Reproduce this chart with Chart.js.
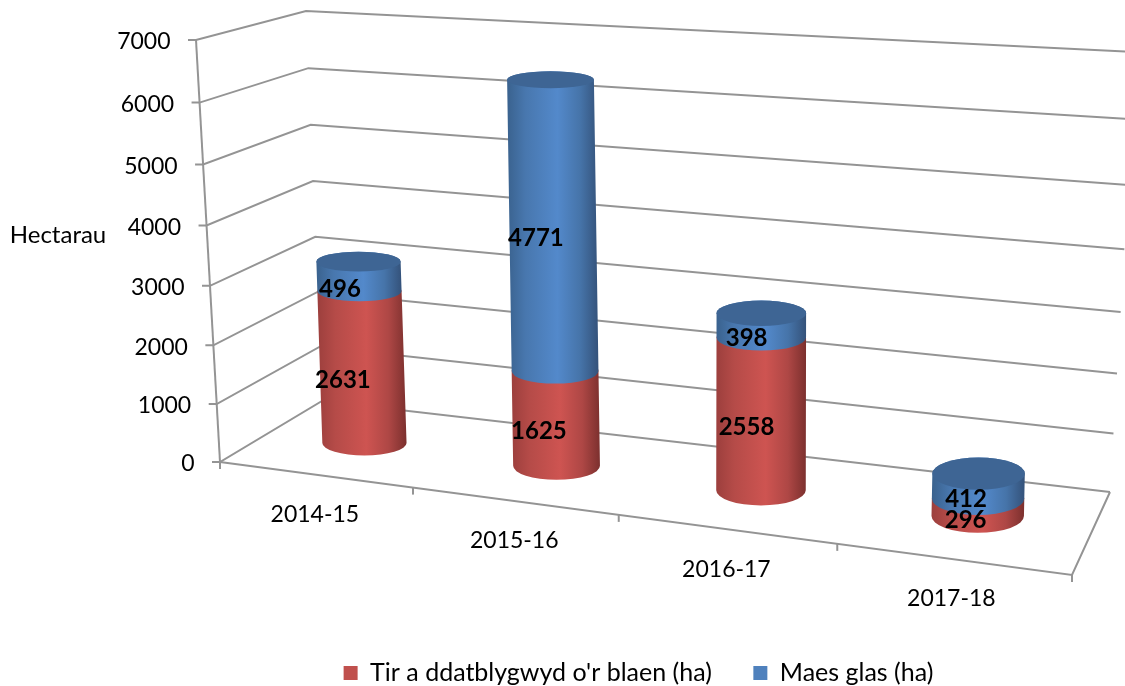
<!DOCTYPE html>
<html>
<head>
<meta charset="utf-8">
<style>html,body{margin:0;padding:0;background:#fff}canvas{display:block}</style>
<script src="https://cdn.jsdelivr.net/npm/chart.js@4/dist/chart.umd.js"></script>
</head>
<body>
<canvas id="c" width="1125" height="686"></canvas>
<script>
const categories = ['2014-15', '2015-16', '2016-17', '2017-18'];
const brownfield = [2631, 1625, 2558, 296];
const greenfield = [496, 4771, 398, 412];
const seriesNames = ["Tir a ddatblygwyd o'r blaen (ha)", 'Maes glas (ha)'];
const axisTitle = 'Hectarau';
const FONT = 'Lato, sans-serif';

// 3D view: how the flat chart plane is laid into the picture
const perspS = u => 0.876 * u + 0.12 * u * u;
const bend = (v, c) => v - c * v * (1 - v);
const lerp = (a, b, t) => a + (b - a) * t;
function wallFront(v) { const t = bend(v, 0.045); return [lerp(220, 196, t), lerp(462, 40, t)]; }
function wallBack(v) { const t = bend(v, 0.03); return [lerp(322, 306, t), lerp(401, 11, t)]; }
function wallRight(v) { const t = bend(v, 0.08); return [lerp(1110, 1136, t), lerp(492, 52, t)]; }
function floorFront(s) { return [lerp(220, 1072, s), lerp(462, 575, s)]; }
function barPoint(s, v) {
  const t = bend(v, 0.05);
  return { x: 273 + 821 * s + (-17 + 30 * s) * t, y: 432 + 98 * s - (414 + 30 * s) * t,
           rx: 41.5 + 5.5 * s, ry: 6 + 5.5 * s + 6 * (1 - v) };
}
const SHADES = {
  0: [[0,'#9C3F3D'],[.2,'#B54B48'],[.55,'#CE5451'],[.8,'#AE4745'],[1,'#7C302E']],
  1: [[0,'#3A628E'],[.2,'#4877AE'],[.55,'#5389CB'],[.8,'#4674A9'],[1,'#34527A']]
};
const TOPS = { 0: '#A84844', 1: '#3E6594' };

function line(ctx, pts) {
  ctx.beginPath();
  pts.forEach((p, i) => i ? ctx.lineTo(p[0], p[1]) : ctx.moveTo(p[0], p[1]));
  ctx.stroke();
}

const scene = {
  id: 'scene',
  afterLayout(chart) {
    // the legend's row gap also sets its height: nudge the box so the row sits at the foot of the picture
    chart.legend.top += 9.5;
    chart.legend.bottom += 9.5;
  },
  beforeDatasetsDraw(chart) {
    const ctx = chart.ctx, ys = chart.scales.y, xs = chart.scales.x, a = chart.chartArea;
    const frac = py => (a.bottom - py) / (a.bottom - a.top);
    ctx.save();
    // walls and floor
    ctx.strokeStyle = '#949494'; ctx.lineWidth = 2; ctx.lineCap = 'butt'; ctx.lineJoin = 'miter';
    ys.ticks.forEach(t => {
      const v = frac(ys.getPixelForValue(t.value));
      const f = wallFront(v);
      line(ctx, [[f[0] - 8, f[1]], f, wallBack(v), wallRight(v)]);
    });
    line(ctx, [wallFront(0), wallFront(1)]);
    line(ctx, [floorFront(0), floorFront(1), wallRight(0)]);
    for (let i = 0; i <= categories.length; i++) {
      const u = i / categories.length, p = floorFront(i === categories.length ? 1 : perspS(u));
      line(ctx, [p, [p[0], p[1] + 7]]);
    }
    // axis text
    ctx.fillStyle = '#000'; ctx.font = '23px ' + FONT; ctx.textBaseline = 'middle';
    ctx.textAlign = 'right';
    ys.ticks.forEach(t => {
      const f = wallFront(frac(ys.getPixelForValue(t.value)));
      ctx.fillText(String(t.value), f[0] - 25.5, f[1] + 2);
    });
    ctx.textAlign = 'center';
    categories.forEach((c, i) => {
      const s = perspS((xs.getPixelForValue(i) - a.left) / (a.right - a.left));
      const p = floorFront(s);
      ctx.fillText(c, p[0], p[1] + 40);
    });
    ctx.font = '24px ' + FONT;
    ctx.fillText(axisTitle, 58, 235);
    // cylinders
    const labels = [];
    categories.forEach((c, i) => {
      chart.data.datasets.forEach((ds, d) => {
        const el = chart.getDatasetMeta(d).data[i];
        const s = perspS((el.x - a.left) / (a.right - a.left));
        const lo = barPoint(s, frac(el.base)), hi = barPoint(s, frac(el.y));
        const g = ctx.createLinearGradient(Math.min(lo.x, hi.x) - lo.rx, 0, Math.max(lo.x, hi.x) + hi.rx, 0);
        SHADES[d].forEach(st => g.addColorStop(st[0], st[1]));
        ctx.fillStyle = g;
        ctx.beginPath();
        ctx.ellipse(lo.x, lo.y, lo.rx, lo.ry, 0, Math.PI, 0, true);
        ctx.lineTo(hi.x + hi.rx, hi.y);
        ctx.ellipse(hi.x, hi.y, hi.rx, hi.ry, 0, 0, Math.PI, true);
        ctx.closePath();
        ctx.fill();
        if (d === chart.data.datasets.length - 1) {
          ctx.fillStyle = TOPS[d];
          ctx.beginPath();
          ctx.ellipse(hi.x, hi.y, hi.rx, hi.ry, 0, 0, Math.PI * 2);
          ctx.fill();
        }
        labels.push([String(ds.data[i]), (lo.x + hi.x) / 2 - 20 + 9 * s, (lo.y + hi.y) / 2 + 13]);
      });
    });
    // value labels
    ctx.fillStyle = '#000'; ctx.font = 'bold 24px ' + FONT; ctx.textAlign = 'center'; ctx.textBaseline = 'middle';
    labels.forEach(l => ctx.fillText(l[0], l[1], l[2]));
    ctx.restore();
    return false;
  }
};

new Chart(document.getElementById('c'), {
  type: 'bar',
  data: {
    labels: categories,
    datasets: [
      { label: seriesNames[0], data: brownfield, backgroundColor: '#C0504D', borderWidth: 0 },
      { label: seriesNames[1], data: greenfield, backgroundColor: '#4F81BD', borderWidth: 0 }
    ]
  },
  plugins: [scene],
  options: {
    responsive: false,
    animation: false,
    layout: { padding: { left: 152 } },
    scales: {
      x: { stacked: true, grid: { display: false }, border: { display: false }, ticks: { display: false } },
      y: { stacked: true, min: 0, max: 7000, grid: { display: false }, border: { display: false },
           ticks: { display: false, stepSize: 1000 } }
    },
    plugins: {
      tooltip: { enabled: false },
      legend: {
        position: 'bottom',
        labels: { boxWidth: 14, boxHeight: 14, padding: 41.5, color: '#000', font: { family: FONT, size: 25 } }
      }
    }
  }
});
</script>
</body>
</html>
